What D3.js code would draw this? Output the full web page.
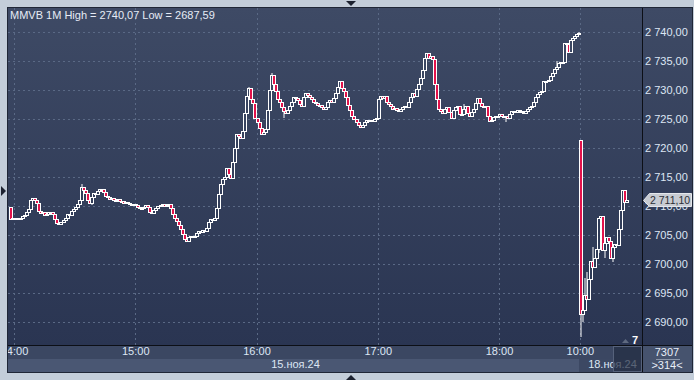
<!DOCTYPE html>
<html>
<head>
<meta charset="utf-8">
<script src="https://cdn.jsdelivr.net/npm/d3@7"></script>
<style>
  body { margin: 0; background: #c3cdd9; }
  svg { display: block; }
  text { font-family: "Liberation Sans Narrow", "Arial Narrow", "Liberation Sans", sans-serif; font-size: 11px; }
</style>
</head>
<body>
<div id="chart"></div>
<script>
// ---- data ----
const title = "MMVB 1M High = 2740,07 Low = 2687,59";
const dayStarts = ["13:58", "10:00"];
const dayLabels = ["15.ноя.24", "18.ноя.24"];
const dayOpens = [2709.8, 2721.3];

// 1-minute closes, 15 nov (13:58 - 18:39)
const closesDay1 = [
  2707.7, 2707.9, 2707.8, 2708.0, 2707.8, 2707.9, 2708.3, 2708.5, 2709.0, 2709.5,
  2711.0, 2711.3, 2711.0, 2710.5, 2709.2, 2708.8, 2708.9, 2708.5, 2708.6, 2708.9,
  2709.0, 2708.6, 2707.7, 2707.0, 2706.9, 2707.3, 2707.6, 2708.0, 2708.6, 2708.4,
  2709.2, 2709.5, 2709.8, 2710.3, 2711.0, 2713.2, 2712.8, 2712.2, 2711.0, 2710.6,
  2711.5, 2712.3, 2712.0, 2712.6, 2712.9, 2713.0, 2712.4, 2711.8, 2711.6, 2711.2,
  2711.4, 2711.1, 2711.0, 2711.2, 2710.9, 2710.9, 2710.6, 2710.7, 2710.5, 2710.4,
  2710.3, 2710.4, 2710.1, 2709.9, 2709.7, 2709.6, 2709.9, 2710.1, 2709.8, 2709.0,
  2708.8, 2709.3, 2709.6, 2710.0, 2710.2, 2710.4, 2710.0, 2710.2, 2710.3, 2709.6,
  2708.7, 2708.0, 2707.5, 2706.8, 2706.0, 2705.2, 2704.3, 2703.9, 2704.6, 2704.9,
  2704.6, 2704.8, 2705.3, 2705.7, 2705.5, 2705.9, 2705.7, 2706.2, 2707.3, 2707.8,
  2707.6, 2708.0, 2709.6, 2712.0, 2713.8, 2714.6, 2715.0, 2716.5, 2715.6, 2714.8,
  2717.5, 2720.0, 2722.5, 2722.0, 2721.8, 2723.0, 2726.0, 2729.0, 2730.3, 2728.5,
  2727.8, 2725.2, 2724.5, 2723.5, 2722.5, 2722.8, 2723.2, 2726.5, 2730.0, 2732.6,
  2731.0, 2729.8, 2728.5, 2728.0, 2727.0, 2726.3, 2726.0, 2726.6, 2727.2, 2728.0,
  2728.8, 2728.6, 2728.2, 2727.6, 2727.2, 2728.8, 2729.5, 2729.2, 2728.8, 2728.5,
  2728.0, 2727.7, 2727.5, 2727.4, 2727.1, 2726.8, 2727.0, 2727.9, 2728.3, 2728.0,
  2728.6, 2729.5, 2730.5, 2731.5, 2730.3, 2729.8, 2728.8, 2727.5, 2726.5, 2725.5,
  2725.0, 2724.5, 2724.0, 2723.6, 2724.0, 2724.5, 2724.8, 2724.6, 2724.9, 2724.7,
  2725.0, 2725.2, 2728.5, 2729.0, 2728.7, 2729.0, 2728.0, 2727.6, 2727.2, 2726.8,
  2726.9, 2726.6, 2726.4, 2726.7, 2727.0, 2727.3, 2727.0, 2728.0, 2728.8, 2729.5,
  2729.0, 2730.2, 2731.0, 2732.0, 2733.5, 2735.5, 2736.4, 2735.5, 2735.8, 2735.3,
  2731.0, 2728.5, 2726.8, 2726.4, 2726.0, 2726.7, 2727.0, 2726.2, 2725.2, 2726.5,
  2727.0, 2727.2, 2725.8, 2725.9, 2726.8, 2727.2, 2726.0, 2725.6, 2726.2, 2726.8,
  2727.8, 2728.6, 2727.8, 2727.2, 2727.0, 2727.3, 2725.5, 2724.6, 2724.8, 2725.4,
  2725.6, 2725.5, 2725.8, 2725.6, 2725.3, 2725.5, 2725.2, 2725.8, 2726.3, 2726.4,
  2726.2, 2726.5, 2726.4, 2726.2, 2726.0, 2726.4, 2726.8, 2727.0, 2727.3, 2728.0,
  2728.8, 2729.3, 2729.6, 2729.8, 2731.6, 2731.5, 2731.8, 2732.4, 2733.0, 2733.6,
  2734.0, 2734.6, 2734.8, 2734.9, 2738.1, 2738.0, 2736.5, 2738.6, 2739.0, 2739.3,
  2739.6, 2739.9
];

// 1-minute closes, 18 nov (from 10:00)
const closesDay2 = [
  2691.4, 2692.0, 2694.6, 2694.0, 2697.5, 2700.6, 2699.5, 2701.1, 2702.6, 2707.9,
  2708.3, 2702.5, 2703.6, 2704.6, 2703.9, 2701.1, 2702.9, 2703.4, 2703.2, 2706.0,
  2709.3, 2712.8, 2710.7, 2711.1
];

// visible wicks: [candle index, high, low]
const wicks = [
  [35, 2713.8, null], [40, null, 2710.3], [118, 2730.6, null], [129, 2732.9, null],
  [135, null, 2725.3], [224, 2727.6, null], [245, null, 2724.6], [270, 2735.0, null],
  [281, 2740.07, null],
  [282, 2721.4, 2687.59], [283, null, 2690.2], [284, 2697.6, null], [285, 2698.6, null],
  [288, 2702.9, null], [291, null, 2702.0], [294, null, 2701.2], [298, null, 2700.5]
];

const priceTicks = [2690, 2695, 2700, 2705, 2710, 2715, 2720, 2725, 2730, 2735, 2740];
const lastPrice = 2711.10;
const cornerText = ["7307", ">314<"];
const pageText = "7";

// ---- layout ----
const W = 694, H = 380;
const plot = {left: 8, right: 642, top: 8, bottom: 345};
const axisRight = 692, timeRow = 359, dateRow = 372;

const svg = d3.select("#chart").append("svg").attr("width", W).attr("height", H);
const defs = svg.append("defs");
const grad = defs.append("linearGradient").attr("id", "bg")
  .attr("gradientUnits", "userSpaceOnUse")
  .attr("x1", 0).attr("y1", plot.top).attr("x2", 0).attr("y2", plot.bottom);
grad.append("stop").attr("offset", 0).attr("stop-color", "#3e4a65");
grad.append("stop").attr("offset", 1).attr("stop-color", "#2a3552");
defs.append("clipPath").attr("id", "plotClip").append("rect")
  .attr("x", plot.left).attr("y", plot.top)
  .attr("width", plot.right - plot.left).attr("height", plot.bottom - plot.top);
defs.append("clipPath").attr("id", "timeClip").append("rect")
  .attr("x", plot.left).attr("y", plot.bottom)
  .attr("width", plot.right - plot.left).attr("height", dateRow - plot.bottom);

// candles
const candles = [];
[closesDay1, closesDay2].forEach((closes, d) => {
  let prev = dayOpens[d];
  const [hh, mm] = dayStarts[d].split(":").map(Number);
  closes.forEach((c, k) => {
    candles.push({i: candles.length, day: d, o: prev, c: c,
      h: Math.max(prev, c), l: Math.min(prev, c), minute: hh * 60 + mm + k});
    prev = c;
  });
});
wicks.forEach(([i, h, l]) => {
  if (h != null) candles[i].h = h;
  if (l != null) candles[i].l = l;
});

const x = d3.scaleLinear().domain([2, 242]).range([14, 499]);
const y = d3.scaleLinear().domain([2690, 2740]).range([322, 32]);

const loc = d3.formatLocale({decimal: ",", thousands: " ", grouping: [3], currency: ["", ""]});
const fmt = loc.format(",.2f");
const hhmm = m => String(Math.floor(m / 60)).padStart(2, "0") + ":" + String(m % 60).padStart(2, "0");

// backgrounds
svg.append("rect").attr("x", plot.left).attr("y", plot.top)
  .attr("width", axisRight - plot.left).attr("height", plot.bottom - plot.top)
  .attr("fill", "url(#bg)");
svg.append("rect").attr("x", plot.left).attr("y", plot.bottom)
  .attr("width", plot.right - plot.left).attr("height", timeRow - plot.bottom)
  .attr("fill", "#3b4762");

const n1 = closesDay1.length;
const dayBreak = Math.round(x(n1)) - 1;
const daySpans = [[plot.left, dayBreak], [dayBreak, plot.right]];
svg.selectAll(".dayrow").data(daySpans).join("rect")
  .attr("x", d => d[0]).attr("y", timeRow)
  .attr("width", d => d[1] - d[0]).attr("height", dateRow - timeRow)
  .attr("fill", (d, k) => k === 0 ? "#4a5773" : "#3c4863");
svg.append("rect").attr("x", plot.right).attr("y", plot.bottom)
  .attr("width", axisRight - plot.right).attr("height", dateRow - plot.bottom)
  .attr("fill", "#46536e");

// grid
const tickIdx = candles.filter(d => d.minute % 60 === 0).map(d => d.i);
const grid = svg.append("g").attr("clip-path", "url(#plotClip)")
  .attr("stroke", "#5a6985").attr("stroke-dasharray", "2,3").attr("stroke-width", 1);
grid.selectAll(".hg").data(priceTicks).join("line")
  .attr("x1", plot.left).attr("x2", plot.right)
  .attr("y1", d => Math.round(y(d)) + 0.5).attr("y2", d => Math.round(y(d)) + 0.5);
grid.selectAll(".vg").data(tickIdx).join("line")
  .attr("y1", plot.top).attr("y2", plot.bottom)
  .attr("x1", d => Math.round(x(d)) + 0.5).attr("x2", d => Math.round(x(d)) + 0.5);

// candles: white outline, red body when falling, hollow when rising
const cg = svg.append("g").attr("clip-path", "url(#plotClip)");
candles.forEach(d => {
  const cx = Math.round(x(d.i));
  const top = Math.round(y(Math.max(d.o, d.c)));
  const bot = Math.round(y(Math.min(d.o, d.c)));
  cg.append("line").attr("x1", cx + 1).attr("x2", cx + 1)
    .attr("y1", Math.round(y(d.h))).attr("y2", Math.round(y(d.l)) + 1)
    .attr("stroke", "#ffffff").attr("stroke-width", 1);
  cg.append("rect").attr("x", cx - 0.5).attr("y", top + 0.5)
    .attr("width", 3).attr("height", Math.max(1, bot - top))
    .attr("fill", d.c < d.o ? "#e3124b" : "url(#bg)")
    .attr("stroke", "#ffffff").attr("stroke-width", 1);
});

// frame lines
svg.append("line").attr("x1", plot.left).attr("x2", axisRight)
  .attr("y1", plot.bottom + 0.5).attr("y2", plot.bottom + 0.5).attr("stroke", "#0c0f16");
svg.append("line").attr("x1", plot.right + 0.5).attr("x2", plot.right + 0.5)
  .attr("y1", plot.top).attr("y2", dateRow).attr("stroke", "#0c0f16");
svg.append("rect").attr("x", plot.left - 0.5).attr("y", plot.top - 0.5)
  .attr("width", axisRight - plot.left + 1).attr("height", dateRow - plot.top + 1)
  .attr("fill", "none").attr("stroke", "#1f2636");

// price axis
const pa = svg.append("g").attr("transform", `translate(${plot.right},0)`)
  .call(d3.axisRight(y).tickValues(priceTicks).tickSize(0).tickPadding(3).tickFormat(fmt));
pa.select(".domain").remove();
pa.selectAll("text").attr("fill", "#dde6f4").style("font-size", "11px")
  .style("font-family", '"Liberation Sans Narrow", "Arial Narrow", sans-serif');

// time axis
const ta = svg.append("g").attr("clip-path", "url(#timeClip)")
  .append("g").attr("transform", `translate(0,${plot.bottom})`)
  .call(d3.axisBottom(x).tickValues(tickIdx).tickSize(0).tickPadding(2)
    .tickFormat(i => hhmm(candles[i].minute)));
ta.select(".domain").remove();
ta.selectAll("text").attr("fill", "#dde6f4").style("font-size", "11px")
  .style("font-family", '"Liberation Sans Narrow", "Arial Narrow", sans-serif');

// date labels
svg.selectAll(".daylab").data(daySpans).join("text")
  .attr("x", d => (d[0] + d[1]) / 2 + 2).attr("y", 368)
  .attr("text-anchor", "middle").attr("fill", "#dde6f4")
  .text((d, k) => dayLabels[k]);

// scroller box over the time axis
svg.append("rect").attr("x", 613.5).attr("y", plot.bottom + 1.5)
  .attr("width", plot.right - 614).attr("height", dateRow - plot.bottom - 2)
  .attr("fill", "rgba(34,44,66,0.7)").attr("stroke", "#56627b");
svg.append("path").attr("d", "M622,343 L625.5,339 L629,343 Z").attr("fill", "#5f6a80");
svg.append("text").attr("x", 632).attr("y", 344).attr("fill", "#ffffff")
  .style("font-weight", "bold").text(pageText);

// corner cell
svg.append("text").attr("x", 667).attr("y", 356).attr("text-anchor", "middle")
  .attr("fill", "#e8eef8").text(cornerText[0]);
svg.append("line").attr("x1", 656).attr("x2", 680).attr("y1", 359.5).attr("y2", 359.5)
  .attr("stroke", "#8d98ab");
svg.append("text").attr("x", 667).attr("y", 369).attr("text-anchor", "middle")
  .attr("fill", "#e8eef8").text(cornerText[1]);

// last price marker (drawn over the 2 710,00 tick, as in the terminal)
const ly = Math.round(y(lastPrice));
svg.append("path")
  .attr("d", `M643.5,${ly + 0.5} L649.5,${ly - 6.5} L691.5,${ly - 6.5} L691.5,${ly + 6.5} L649.5,${ly + 6.5} Z`)
  .attr("fill", "#c7cbd2").attr("stroke", "#e4e7ec");
svg.append("text").attr("x", 650).attr("y", ly + 4).attr("fill", "#2b2e35")
  .style("font-size", "10.5px").text(fmt(lastPrice));

// title
svg.append("text").attr("x", 10).attr("y", 19).attr("fill", "#e6ecf6").text(title);

// frame arrows
svg.append("path").attr("d", "M346,1 L356,1 L351,6 Z").attr("fill", "#1c2230");
svg.append("path").attr("d", "M346,380 L356,380 L351,375 Z").attr("fill", "#1c2230");
svg.append("path").attr("d", "M1,186 L6,191 L1,196 Z").attr("fill", "#1c2230");
</script>
</body>
</html>
